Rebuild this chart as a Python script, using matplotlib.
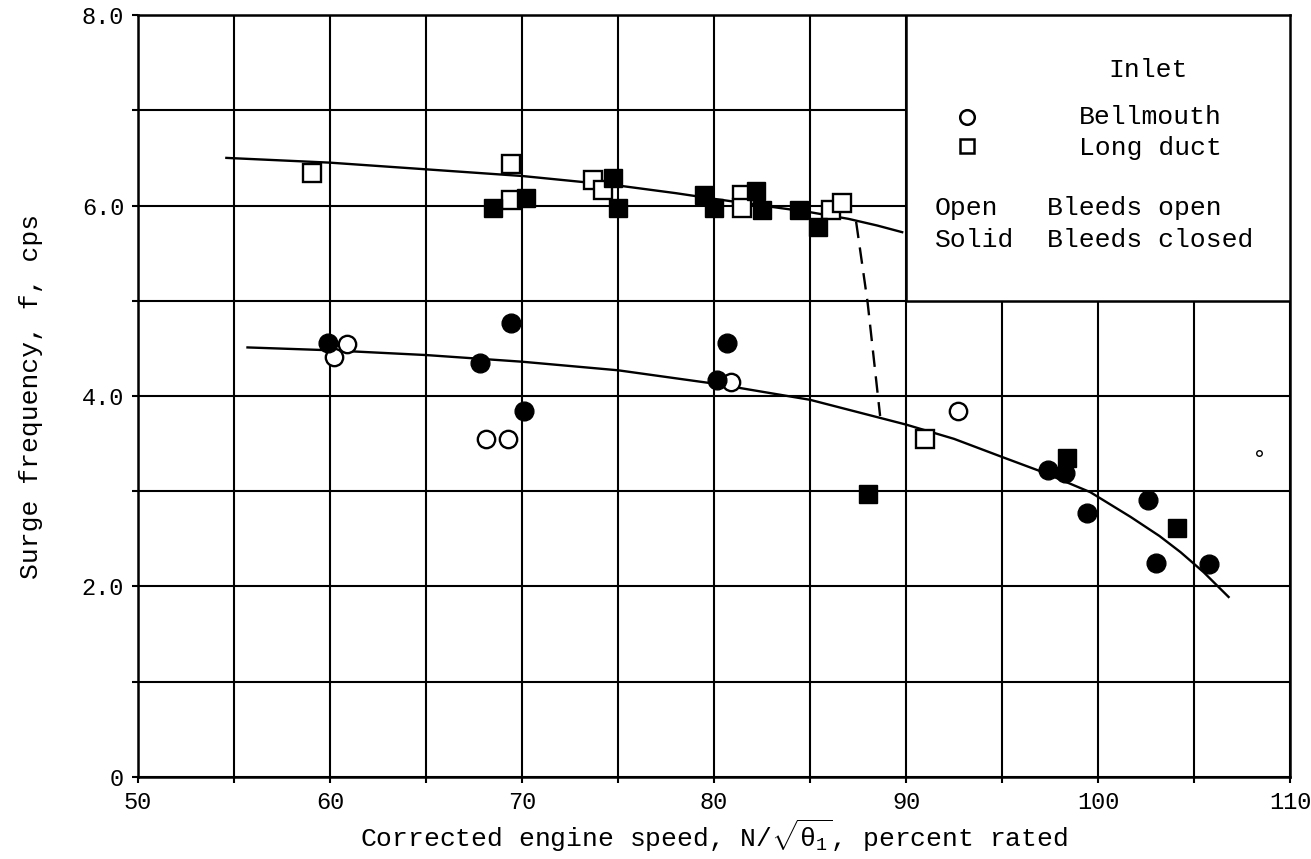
import matplotlib
matplotlib.use('Agg')
import matplotlib.pyplot as plt
from matplotlib.patches import Rectangle

plt.rcParams['font.family'] = ['Liberation Mono', 'DejaVu Sans']
plt.rcParams['mathtext.fontset'] = 'custom'
plt.rcParams['mathtext.rm'] = 'Liberation Mono'
plt.rcParams['mathtext.it'] = 'Liberation Mono'

# Bellmouth inlet (circles)
bell_open_x = [60.9, 60.2, 68.1, 69.25, 80.9, 92.7]
bell_open_y = [4.55, 4.41, 3.55, 3.55, 4.15, 3.84]
bell_solid_x = [59.9, 67.8, 69.4, 70.1, 80.7, 80.15, 97.4, 98.3, 99.4, 102.6, 103.0, 105.8]
bell_solid_y = [4.56, 4.35, 4.77, 3.84, 4.56, 4.17, 3.22, 3.19, 2.77, 2.91, 2.25, 2.24]

# Long duct inlet (squares)
duct_open_x = [59.05, 69.4, 69.4, 73.7, 74.2, 81.45, 81.45, 86.1, 86.65, 91.0]
duct_open_y = [6.34, 6.44, 6.06, 6.27, 6.16, 6.11, 5.97, 5.95, 6.03, 3.55]
duct_solid_x = [68.5, 70.2, 74.75, 75.0, 79.5, 80.0, 82.2, 82.5, 84.4, 85.4, 88.0, 98.4, 104.1]
duct_solid_y = [5.97, 6.08, 6.29, 5.97, 6.11, 5.97, 6.15, 5.95, 5.95, 5.77, 2.97, 3.35, 2.61]

# faired curves
upper_x = [54.6, 60, 65, 70, 75, 78, 80, 82.5, 85, 87, 88.5, 89.8]
upper_y = [6.50, 6.45, 6.38, 6.31, 6.21, 6.13, 6.07, 6.00, 5.93, 5.86, 5.79, 5.72]
lower_x = [55.7, 60, 65, 70, 75, 80, 85, 90, 92.5, 95, 97, 99.6, 101.7, 103.2, 104.3, 105.5, 106.8]
lower_y = [4.51, 4.48, 4.43, 4.36, 4.27, 4.13, 3.96, 3.70, 3.55, 3.36, 3.21, 2.99, 2.73, 2.53, 2.36, 2.15, 1.89]
dash_x = [87.4, 88.0, 88.65]
dash_y = [5.83, 4.98, 3.79]

# stray speck
speck_x = [108.4]
speck_y = [3.40]

fig, ax = plt.subplots(figsize=(13.11, 8.59), dpi=100)
fig.subplots_adjust(left=0.1053, right=0.984, bottom=0.0955, top=0.9825)

fs = 19
ms = 12.5
ax.plot(upper_x, upper_y, color='black', lw=1.7, zorder=3)
ax.plot(lower_x, lower_y, color='black', lw=1.7, zorder=3)
ax.plot(dash_x, dash_y, color='black', lw=1.7, linestyle=(0, (7, 4)), zorder=3)

ax.plot(bell_open_x, bell_open_y, 'o', ms=ms, mfc='white', mec='black', mew=1.7, zorder=4)
ax.plot(bell_solid_x, bell_solid_y, 'o', ms=ms + 1, mfc='black', mec='black', zorder=4)
ax.plot(duct_open_x, duct_open_y, 's', ms=ms, mfc='white', mec='black', mew=1.7, zorder=4)
ax.plot(duct_solid_x, duct_solid_y, 's', ms=ms + 1, mfc='black', mec='black', zorder=4)
ax.plot(speck_x, speck_y, 'o', ms=4, mfc='white', mec='black', mew=1.0, zorder=4)

ax.set_xlim(50, 110)
ax.set_ylim(0, 8)
ax.set_xticks(range(50, 111, 10))
ax.set_xticks(range(55, 110, 10), minor=True)
ax.set_yticks([0, 2, 4, 6, 8])
ax.set_yticklabels(['0', '2.0', '4.0', '6.0', '8.0'])
ax.set_yticks([1, 3, 5, 7], minor=True)
ax.set_axisbelow(True)
ax.grid(which='both', color='black', lw=1.5)
ax.tick_params(which='both', direction='out', length=4, width=1.5, labelsize=17, pad=6)
for s in ax.spines.values():
    s.set_linewidth(1.8)

ax.set_xlabel(r'Corrected engine speed, N/$\sqrt{\theta_1}$, percent rated', fontsize=fs, labelpad=3)
ax.set_ylabel('Surge frequency, f, cps', fontsize=fs, labelpad=28)

# key box in the upper right corner
ax.add_patch(Rectangle((90, 5.0), 20, 3, facecolor='white', edgecolor='black', lw=1.8, zorder=3))
ax.text(102.6, 7.42, 'Inlet', fontsize=fs, ha='center', va='center', zorder=5)
ax.plot([93.2], [6.93], 'o', ms=10.5, mfc='white', mec='black', mew=1.8, zorder=5)
ax.plot([93.2], [6.62], 's', ms=10, mfc='white', mec='black', mew=1.8, zorder=5)
ax.text(99.0, 6.93, 'Bellmouth', fontsize=fs, ha='left', va='center', zorder=5)
ax.text(99.0, 6.60, 'Long duct', fontsize=fs, ha='left', va='center', zorder=5)
ax.text(91.5, 5.97, 'Open', fontsize=fs, ha='left', va='center', zorder=5)
ax.text(91.5, 5.64, 'Solid', fontsize=fs, ha='left', va='center', zorder=5)
ax.text(97.35, 5.97, 'Bleeds open', fontsize=fs, ha='left', va='center', zorder=5)
ax.text(97.35, 5.64, 'Bleeds closed', fontsize=fs, ha='left', va='center', zorder=5)

fig.savefig('out.png', dpi=100)
